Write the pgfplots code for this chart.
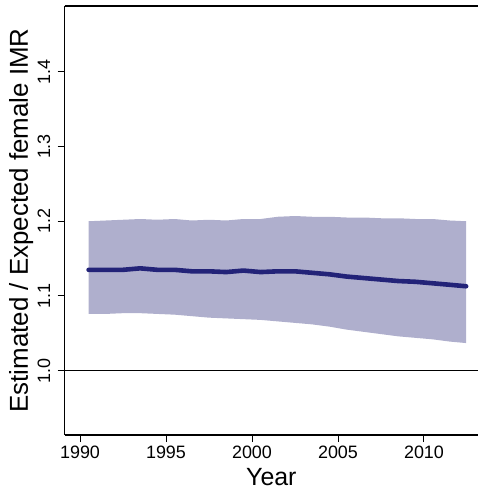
\documentclass[border=0pt]{standalone}
\usepackage{fontspec}
\setmainfont{Liberation Sans}
\usepackage{pgfplots}
\pgfplotsset{compat=1.18}
\usepgfplotslibrary{fillbetween}
\usetikzlibrary{calc}
\definecolor{bandcol}{RGB}{175,175,205}
\definecolor{linecol}{RGB}{35,35,120}
\begin{document}
\begin{tikzpicture}
\begin{axis}[
  scale only axis,
  width=413.3bp, height=429bp,
  xmin=1989.11, xmax=2013.14,
  ymin=0.914, ymax=1.488,
  axis x line*=bottom, axis y line*=left,
  axis line style={-, line width=1.1bp},
  xtick={1990,1995,2000,2005,2010},
  ytick={1.0,1.1,1.2,1.3,1.4},
  tick align=outside,
  major tick length=7bp,
  tick style={line width=1bp, black},
  xticklabel style={font=\fontsize{18}{20}\selectfont, /pgf/number format/1000 sep={}},
  yticklabel style={font=\fontsize{18}{20}\selectfont, rotate=90, anchor=base,
    /pgf/number format/fixed, /pgf/number format/precision=1, /pgf/number format/fixed zerofill},
  /pgf/number format/assume math mode=true,
  every y tick label/.append style={yshift=7.7bp},
  xlabel={Year},
  ylabel={Estimated / Expected female IMR},
  xlabel style={font=\fontsize{25}{28}\selectfont, at={(axis description cs:0.5,0)}, anchor=base, yshift=-50bp},
  ylabel style={font=\fontsize{26}{28}\selectfont, at={(axis description cs:0,0.5)}, anchor=base, yshift=36.7bp},
  clip=false,
]
\addplot[name path=upper, draw=none] coordinates {
(1990.5,1.200) (1991.5,1.201) (1992.5,1.202) (1993.5,1.203) (1994.5,1.202) (1995.5,1.203)
(1996.5,1.201) (1997.5,1.202) (1998.5,1.201) (1999.5,1.203) (2000.5,1.203) (2001.5,1.206)
(2002.5,1.207) (2003.5,1.206) (2004.5,1.206) (2005.5,1.205) (2006.5,1.205) (2007.5,1.204)
(2008.5,1.204) (2009.5,1.203) (2010.5,1.203) (2011.5,1.201) (2012.45,1.200)};
\addplot[name path=lower, draw=none] coordinates {
(1990.5,1.076) (1991.5,1.076) (1992.5,1.077) (1993.5,1.077) (1994.5,1.076) (1995.5,1.075)
(1996.5,1.073) (1997.5,1.071) (1998.5,1.070) (1999.5,1.069) (2000.5,1.068) (2001.5,1.066)
(2002.5,1.064) (2003.5,1.062) (2004.5,1.059) (2005.5,1.055) (2006.5,1.052) (2007.5,1.049)
(2008.5,1.046) (2009.5,1.044) (2010.5,1.042) (2011.5,1.039) (2012.45,1.037)};
\addplot[bandcol, draw=none] fill between[of=upper and lower];
\addplot[linecol, line width=4.6bp, line cap=round, line join=round] coordinates {
(1990.5,1.135) (1991.5,1.135) (1992.5,1.135) (1993.5,1.137) (1994.5,1.135) (1995.5,1.135)
(1996.5,1.133) (1997.5,1.133) (1998.5,1.132) (1999.5,1.134) (2000.5,1.132) (2001.5,1.133)
(2002.5,1.133) (2003.5,1.131) (2004.5,1.129) (2005.5,1.126) (2006.5,1.124) (2007.5,1.122)
(2008.5,1.120) (2009.5,1.119) (2010.5,1.117) (2011.5,1.115) (2012.45,1.113)};
\addplot[black, line width=1bp, forget plot] coordinates {(1989.11,1.0) (2013.14,1.0)};
\draw[line width=1.1bp] (rel axis cs:0,1) -- (rel axis cs:1,1);
\coordinate (LL) at (rel axis cs:0,0);
\coordinate (UR) at (rel axis cs:1,1);
\end{axis}
\pgfresetboundingbox
\useasboundingbox ($(LL)+(-64.7bp,-60bp)$) rectangle ($(UR)+(0,6bp)$);
\end{tikzpicture}
\end{document}
